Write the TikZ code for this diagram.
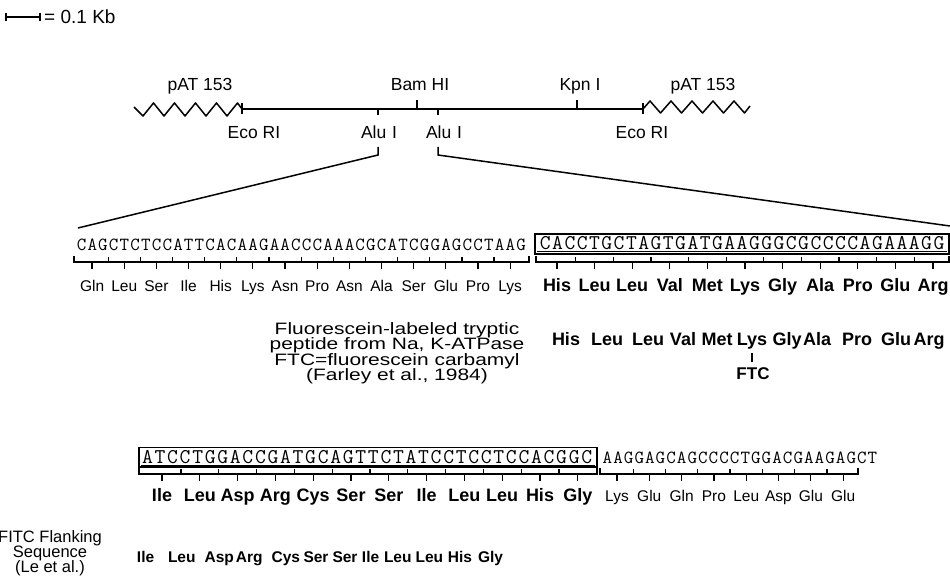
\documentclass[tikz,border=0pt]{standalone}
\usepackage{fontspec}
\setmainfont{Liberation Sans}
\newfontfamily\blockfont[FakeStretch=1.27]{Liberation Sans}
\newcommand\spacedseq[2]{\def\sqw{#1}\sqloop#2\relax}
\def\sqloop#1{\ifx\relax#1\else\hbox to\sqw{\hss#1\hss}\expandafter\sqloop\fi}
\tikzset{
  ln/.style={line width=1.5pt},
  brk/.style={line width=1.2pt},
  boxline/.style={line width=1.4pt},
  maplbl/.style={font=\fontsize{17.5}{17.5}\selectfont, inner sep=0pt, anchor=base},
  aareg/.style={font=\fontsize{15.5}{15.5}\selectfont, inner sep=0pt, anchor=base},
  aabold/.style={font=\fontsize{18}{18}\selectfont\bfseries, inner sep=0pt, anchor=base},
  aasmall/.style={font=\fontsize{15.5}{15.5}\selectfont\bfseries, inner sep=0pt, anchor=base},
  blocklbl/.style={font=\blockfont\fontsize{16.5}{16.5}\selectfont, inner sep=0pt, anchor=base},
  fitclbl/.style={font=\fontsize{16.5}{16.5}\selectfont, inner sep=0pt, anchor=base},
  dnareg/.style={font={\fontsize{18.5}{18.5}\ttfamily\selectfont\addfontfeatures{FakeBold=0.8}}, inner sep=0pt, anchor=base west},
  dnabold/.style={font={\fontsize{21}{21}\ttfamily\selectfont\addfontfeatures{FakeBold=2}}, inner sep=0pt, anchor=base west}
}
\begin{document}
\begin{tikzpicture}[x=1pt,y=-1pt]
\useasboundingbox (0,0) rectangle (950,588);

% scale bar
\coordinate (sbL) at (6,17);
\coordinate (sbR) at (40,17);
\draw[ln] (sbL) -- (sbR);
\draw[ln] ([yshift=4pt]sbL) -- ([yshift=-4pt]sbL);
\draw[ln] ([yshift=4pt]sbR) -- ([yshift=-4pt]sbR);
\node[maplbl, font=\fontsize{19}{19}\selectfont, anchor=base west] (sbtxt) at (44,24) {= 0.1 Kb};

% map line
\coordinate (ecoL) at (242,109);
\coordinate (ecoR) at (643,109);
\coordinate (bam) at (417,109);
\coordinate (kpn) at (577,109);
\coordinate (aluL) at (378,109);
\coordinate (aluR) at (438,109);
\draw[ln] (ecoL) -- (ecoR);
\draw[ln] ([yshift=-5.5pt]ecoL) -- ([yshift=5.5pt]ecoL);
\draw[ln] ([yshift=-5.5pt]ecoR) -- ([yshift=5.5pt]ecoR);
\draw[ln] (bam) -- ++(0,-9);
\draw[ln] (kpn) -- ++(0,-9);
\draw[ln] (aluL) -- ++(0,6);
\draw[ln] (aluR) -- ++(0,6);
% wavy vector ends
\draw[ln, line join=round] (134,107) \foreach \k in {0,...,4} { -- ({143+21*\k},116) -- ({153.5+21*\k},103) } -- (ecoL);
\draw[ln, line join=round] (ecoR) \foreach \k in {0,...,4} { -- ({650+21*\k},101) -- ({660.5+21*\k},113) } -- (750,106);

\node[maplbl] (patL) at (200,91) {pAT 153};
\node[maplbl] (bamlbl) at (420,91) {Bam HI};
\node[maplbl] (kpnlbl) at (580,91) {Kpn I};
\node[maplbl] (patR) at (703,91) {pAT 153};
\node[maplbl] (ecoLlbl) at (254,139) {Eco RI};
\node[maplbl] (aluLlbl) at (379,139) {Alu\,\,I};
\node[maplbl] (aluRlbl) at (444,139) {Alu\,\,I};
\node[maplbl] (ecoRlbl) at (642,139) {Eco RI};

% expansion lines
\coordinate (exL1) at (378,147);
\coordinate (exL2) at (378,155);
\coordinate (exL3) at (78,228);
\coordinate (exR1) at (438,147);
\coordinate (exR2) at (438,155);
\coordinate (exR3) at (950,226);
\draw[ln] (exL1) -- (exL2) -- (exL3);
\draw[ln] (exR1) -- (exR2) -- (exR3);

% ---------- DNA line 1 ----------
\node[dnareg] (seqA) at (76,250) {\spacedseq{10.72pt}{CAGCTCTCCATTCACAAGAACCCAAACGCATCGGAGCCTAAG}};
\draw[boxline] (535,234) rectangle (949,254);
\node[dnabold] (seqB) at (539,249.5) {\spacedseq{12.3pt}{CACCTGCTAGTGATGAAGGGCGCCCCAGAAAGG}};
\draw[line width=0.8pt] (537,251.5) -- (947,251.5);
% brackets line 1
\draw[brk] (74,256) -- (74,262) -- (529,262) -- (529,256);
\foreach \k in {1,...,13} \draw[brk] ({76+32.16*\k},262) -- ++(0,-5.5);
\foreach \k in {0,...,13} \draw[brk] ({76+32.16*(\k+0.5)},262) -- ++(0,6.5);
\draw[brk] (536,256) -- (536,262) -- (949,262) -- (949,256);
\foreach \k in {0,...,9} \draw[brk] ({557+37.6*(\k+0.5)},262) -- ++(0,-5.5);
\foreach \k in {0,...,10} \draw[brk] ({557+37.6*\k},262) -- ++(0,6.5);
% amino acids line 1
\foreach \a [count=\i from 0] in {Gln,Leu,Ser,Ile,His,Lys,Asn,Pro,Asn,Ala,Ser,Glu,Pro,Lys}
  \node[aareg] (ra\i) at ({92.1+32.16*\i},291) {\a};
\foreach \a [count=\i from 0] in {His,Leu,Leu,Val,Met,Lys,Gly,Ala,Pro,Glu,Arg}
  \node[aabold] (rb\i) at ({557+37.6*\i},291) {\a};

% ---------- peptide block ----------
\node[blocklbl] (bl1) at (397,334) {Fluorescein-labeled tryptic};
\node[blocklbl] (bl2) at (397,349.5) {peptide from Na, K-ATPase};
\node[blocklbl] (bl3) at (397,365) {FTC=fluorescein carbamyl};
\node[blocklbl] (bl4) at (397,380.5) {(Farley et al., 1984)};
\foreach \a/\x [count=\i] in {His/566,Leu/607,Leu/648,Val/683,Met/717,Lys/752,Gly/787,Ala/817,Pro/857,Glu/896,Arg/929}
  \node[aabold] (pp\i) at (\x,345) {\a};
\coordinate (ftcT) at (752,353);
\coordinate (ftcB) at (752,362);
\draw[brk] (ftcT) -- (ftcB);
\node[aabold, font=\fontsize{17}{17}\selectfont\bfseries] (ftc) at (753,379) {FTC};

% ---------- DNA line 2 ----------
\draw[boxline] (139,447.5) rectangle (597,467);
\node[dnabold] (seqC) at (141,463) {\spacedseq{12.55pt}{ATCCTGGACCGATGCAGTTCTATCCTCCTCCACGGC}};
\draw[line width=0.8pt] (141,465) -- (595,465);
\node[dnareg] (seqD) at (602,463) {\spacedseq{10.6pt}{AAGGAGCAGCCCCTGGACGAAGAGCT}};
\draw[brk] (139,468) -- (139,474) -- (597,474) -- (597,468);
\foreach \k in {0,...,10} \draw[brk] ({162+37.8*(\k+0.5)},474) -- ++(0,-5.5);
\foreach \k in {0,...,11} \draw[brk] ({162+37.8*\k},474) -- ++(0,6.5);
\draw[brk] (600,468) -- (600,474) -- (858,474) -- (858,468);
\foreach \k in {0,...,6} \draw[brk] ({617+32.3*(\k+0.5)},474) -- ++(0,-5.5);
\foreach \k in {0,...,7} \draw[brk] ({617+32.3*\k},474) -- ++(0,6.5);
\foreach \a [count=\i from 0] in {Ile,Leu,Asp,Arg,Cys,Ser,Ser,Ile,Leu,Leu,His,Gly}
  \node[aabold] (rc\i) at ({162+37.8*\i},501) {\a};
\foreach \a [count=\i from 0] in {Lys,Glu,Gln,Pro,Leu,Asp,Glu,Glu}
  \node[aareg] (rd\i) at ({617+32.3*\i},501) {\a};

% ---------- FITC flanking ----------
\node[fitclbl] (fl1) at (50,542) {FITC Flanking};
\node[fitclbl] (fl2) at (50,557) {Sequence};
\node[fitclbl] (fl3) at (50,572) {(Le et al.)};
\foreach \a/\x [count=\i] in {Ile/145.6,Leu/181.8,Asp/219.3,Arg/249.3,Cys/285.9,Ser/316,Ser/345,Ile/370.6,Leu/397.8,Leu/429.4,His/460,Gly/490.5}
  \node[aasmall] (fs\i) at (\x,562) {\a};
\end{tikzpicture}
\end{document}
